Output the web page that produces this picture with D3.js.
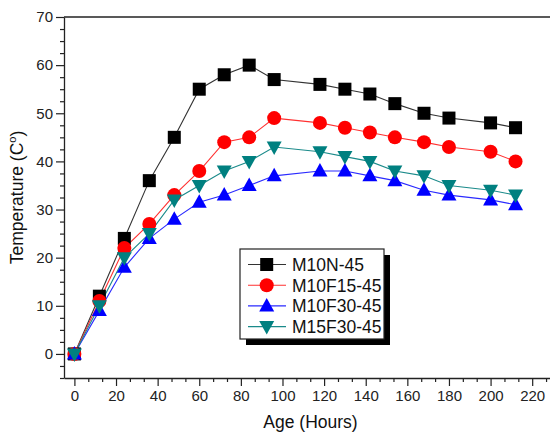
<!DOCTYPE html>
<html>
<head>
<meta charset="utf-8">
<script src="https://cdn.jsdelivr.net/npm/d3@7"></script>
<style>
  html, body { margin: 0; padding: 0; background: #fff; }
  svg { display: block; font-family: Arial, "Liberation Sans", sans-serif; }
</style>
</head>
<body>
<svg id="chart" width="550" height="437"></svg>
<script>
// ---- data ----
const hours = [0, 12, 24, 36, 48, 60, 72, 84, 96, 118, 130, 142, 154, 168, 180, 200, 212];
const m10n45   = [0, 12, 24, 36, 45, 55, 58, 60, 57, 56, 55, 54, 52, 50, 49, 48, 47];
const m10f1545 = [0, 11, 22, 27, 33, 38, 44, 45, 49, 48, 47, 46, 45, 44, 43, 42, 40];
const m10f3045 = [0, 9, 18, 24, 28, 31.5, 33, 35, 37, 38, 38, 37, 36, 34, 33, 32, 31];
const m15f3045 = [0, 10, 20, 25, 32, 35, 38, 40, 43, 42, 41, 40, 38, 37, 35, 34, 33];
const seriesNames = ["M10N-45", "M10F15-45", "M10F30-45", "M15F30-45"];
const xTicks = [0, 20, 40, 60, 80, 100, 120, 140, 160, 180, 200, 220];
const yTicks = [0, 10, 20, 30, 40, 50, 60, 70];
const xTitle = "Age (Hours)";

const series = [
  { name: seriesNames[0], values: m10n45,   color: "#000000", line: "#333333", shape: "square" },
  { name: seriesNames[1], values: m10f1545, color: "#ff0000", line: "#ff3030", shape: "circle" },
  { name: seriesNames[2], values: m10f3045, color: "#0000ff", line: "#2a2aff", shape: "up" },
  { name: seriesNames[3], values: m15f3045, color: "#008080", line: "#1a8a8a", shape: "down" }
];

// ---- layout ----
const svg = d3.select("#chart");
const pL = 64, pR = 553, pT = 17, pB = 378;
const x = d3.scaleLinear().domain([-5, 230]).range([pL, pR]);
const y = d3.scaleLinear().domain([-5, 70]).range([pB, pT]);
const axisColor = "#222";

// minor ticks
const xMinor = d3.range(0, 231, 20 / 3).filter(v => !xTicks.some(t => Math.abs(t - v) < 0.01));
const yMinor = d3.range(-5, 70.01, 2.5).filter(v => !yTicks.includes(v));

// frame (top line + right line)
svg.append("line").attr("x1", pL).attr("x2", pR).attr("y1", pT).attr("y2", pT)
  .attr("stroke", axisColor).attr("stroke-width", 1.3);
svg.append("line").attr("x1", pR).attr("x2", pR).attr("y1", pT).attr("y2", pB)
  .attr("stroke", axisColor).attr("stroke-width", 1.3);

// x axis
const gx = svg.append("g").attr("transform", `translate(0,${pB})`)
  .call(d3.axisBottom(x).tickValues(xTicks).tickSize(8).tickSizeOuter(0).tickPadding(4).tickFormat(d3.format("d")));
gx.selectAll(".tick line").attr("stroke", axisColor).attr("stroke-width", 1.2);
gx.select(".domain").attr("stroke", axisColor).attr("stroke-width", 1.3);
gx.selectAll("text").attr("font-size", 15).attr("fill", "#222").attr("font-family", "Arial, 'Liberation Sans', sans-serif");
const gxm = svg.append("g").attr("transform", `translate(0,${pB})`)
  .call(d3.axisBottom(x).tickValues(xMinor).tickSize(4).tickSizeOuter(0).tickFormat(""));
gxm.select(".domain").remove();
gxm.selectAll(".tick line").attr("stroke", axisColor).attr("stroke-width", 1.2);

// y axis
const gy = svg.append("g").attr("transform", `translate(${pL},0)`)
  .call(d3.axisLeft(y).tickValues(yTicks).tickSize(8).tickSizeOuter(0).tickPadding(3).tickFormat(d3.format("d")));
gy.selectAll(".tick line").attr("stroke", axisColor).attr("stroke-width", 1.2);
gy.select(".domain").attr("stroke", axisColor).attr("stroke-width", 1.3);
gy.selectAll("text").attr("font-size", 15).attr("fill", "#222").attr("font-family", "Arial, 'Liberation Sans', sans-serif");
const gym = svg.append("g").attr("transform", `translate(${pL},0)`)
  .call(d3.axisLeft(y).tickValues(yMinor).tickSize(4).tickSizeOuter(0).tickFormat(""));
gym.select(".domain").remove();
gym.selectAll(".tick line").attr("stroke", axisColor).attr("stroke-width", 1.2);

// axis titles
svg.append("text").attr("x", (pL + pR) / 2 + 2).attr("y", 428)
  .attr("text-anchor", "middle").attr("font-size", 17.5).attr("fill", "#111").text(xTitle);
const yt = svg.append("text").attr("transform", `translate(23,${(pT + pB) / 2}) rotate(-90)`)
  .attr("text-anchor", "middle").attr("font-size", 17.5).attr("fill", "#111");
yt.append("tspan").text("Temperature (C");
yt.append("tspan").attr("dy", -7).attr("font-size", 11).text("o");
yt.append("tspan").attr("dy", 7).text(")");

// marker drawing
function marker(g, shape, cx, cy, color) {
  if (shape === "square") {
    g.append("rect").attr("x", cx - 6.5).attr("y", cy - 6.5).attr("width", 13).attr("height", 13).attr("fill", color);
  } else if (shape === "circle") {
    g.append("circle").attr("cx", cx).attr("cy", cy).attr("r", 7).attr("fill", color);
  } else if (shape === "up") {
    g.append("path").attr("d", `M${cx},${cy - 8}L${cx + 7.5},${cy + 5.5}L${cx - 7.5},${cy + 5.5}Z`).attr("fill", color);
  } else {
    g.append("path").attr("d", `M${cx},${cy + 8}L${cx + 7.5},${cy - 5.5}L${cx - 7.5},${cy - 5.5}Z`).attr("fill", color);
  }
}

const lineGen = d3.line().x(d => x(d[0])).y(d => y(d[1]));
const plot = svg.append("g");
series.forEach(s => {
  const pts = hours.map((h, i) => [h, s.values[i]]);
  plot.append("path").datum(pts).attr("d", lineGen).attr("fill", "none")
    .attr("stroke", s.line).attr("stroke-width", 1.1);
});
series.forEach(s => {
  const g = plot.append("g");
  hours.forEach((h, i) => marker(g, s.shape, x(h), y(s.values[i]), s.color));
});

// legend
const lg = svg.append("g");
const lx = 240, ly = 249, lw = 144, lh = 90;
lg.append("rect").attr("x", lx + 6).attr("y", ly + 6).attr("width", lw).attr("height", lh).attr("fill", "#000");
lg.append("rect").attr("x", lx).attr("y", ly).attr("width", lw).attr("height", lh)
  .attr("fill", "#fff").attr("stroke", "#222").attr("stroke-width", 1.2);
series.forEach((s, i) => {
  const cy = 264.5 + i * 20.7;
  lg.append("line").attr("x1", 248).attr("x2", 286).attr("y1", cy).attr("y2", cy)
    .attr("stroke", s.line).attr("stroke-width", 1.1);
  marker(lg, s.shape, 266.7, cy, s.color);
  lg.append("text").attr("x", 292).attr("y", cy + 6.3).attr("font-size", 17.5).attr("fill", "#111").text(s.name);
});
</script>
</body>
</html>
